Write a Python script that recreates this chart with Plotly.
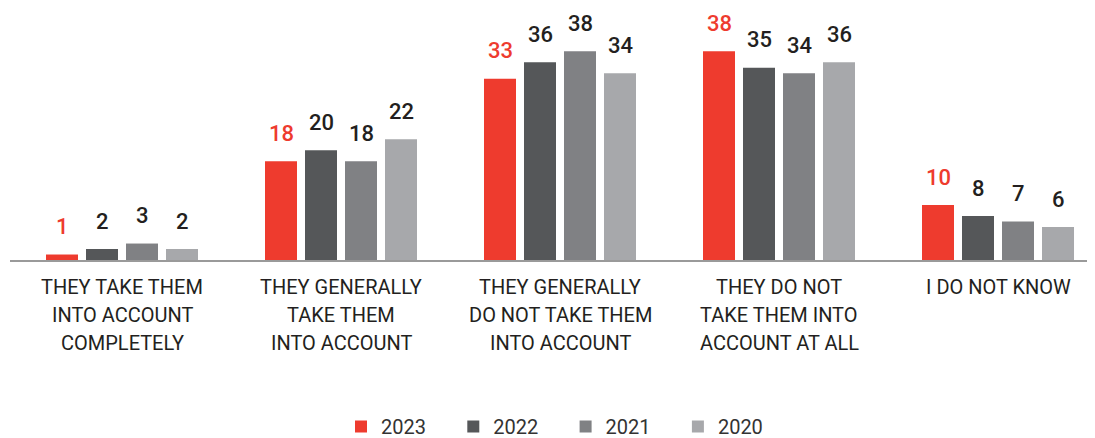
import plotly.graph_objects as go

categories = [
    "THEY TAKE THEM<br>INTO ACCOUNT<br>COMPLETELY",
    "THEY GENERALLY<br>TAKE THEM<br>INTO ACCOUNT",
    "THEY GENERALLY<br>DO NOT TAKE THEM<br>INTO ACCOUNT",
    "THEY DO NOT<br>TAKE THEM INTO<br>ACCOUNT AT ALL",
    "I DO NOT KNOW",
]
years = ["2023", "2022", "2021", "2020"]
values_2023 = [1, 18, 33, 38, 10]
values_2022 = [2, 20, 36, 35, 8]
values_2021 = [3, 18, 38, 34, 7]
values_2020 = [2, 22, 34, 36, 6]
series = [values_2023, values_2022, values_2021, values_2020]

colors = ["#EE3B2E", "#555759", "#808184", "#A7A8AB"]
label_colors = ["#EE3B2E", "#231F20", "#231F20", "#231F20"]

FONT = "Roboto"
W, H = 1087, 430  # page body has an 8px margin
bargap = 0.2694
n = len(series)
slot = (1 - bargap) / n

fig = go.Figure()
xs = list(range(len(categories)))
for i, (yr, vals) in enumerate(zip(years, series)):
    fig.add_trace(go.Bar(
        x=xs, y=vals, name=yr, marker=dict(color=colors[i], line=dict(width=0)),
        hoverinfo="skip",
    ))
    for j, v in enumerate(vals):
        fig.add_annotation(
            x=j + (i - (n - 1) / 2) * slot, y=v, xref="x", yref="y",
            text=str(v), showarrow=False, yanchor="bottom", yshift=13.5,
            font=dict(family=FONT, size=22, weight=500, color=label_colors[i]),
        )

# category labels, one annotation per line for the original line spacing
for j, cat in enumerate(categories):
    for k, line in enumerate(cat.split("<br>")):
        fig.add_annotation(
            x=j, y=0, xref="x", yref="paper", text=line, showarrow=False,
            yanchor="top", yshift=-(12.5 + 28 * k),
            font=dict(family=FONT, size=20, color="#231F20"),
        )

fig.update_layout(
    width=W, height=H,
    margin=dict(l=2, r=0, t=0, b=177.5, autoexpand=False),
    paper_bgcolor="white", plot_bgcolor="white",
    barmode="group", bargap=bargap, bargroupgap=0.2,
    showlegend=True,
    legend=dict(
        orientation="h", xref="container", x=333 / W, xanchor="left",
        yref="container", y=31 / H, yanchor="top",
        font=dict(family=FONT, size=20, color="#333333"),
        entrywidth=67.3, itemclick=False, itemdoubleclick=False,
    ),
    font=dict(family=FONT),
)
fig.update_xaxes(
    range=[-0.5114, 4.4429], tickvals=xs, showticklabels=False, ticks="",
    showline=True, linecolor="#9A9A9A", linewidth=2,
    showgrid=False, zeroline=False, fixedrange=True, automargin=False,
)
fig.update_yaxes(range=[0, 45.9], visible=False, showgrid=False, zeroline=False,
                 fixedrange=True, automargin=False)

fig.write_html("out.html", config={"displayModeBar": False})
